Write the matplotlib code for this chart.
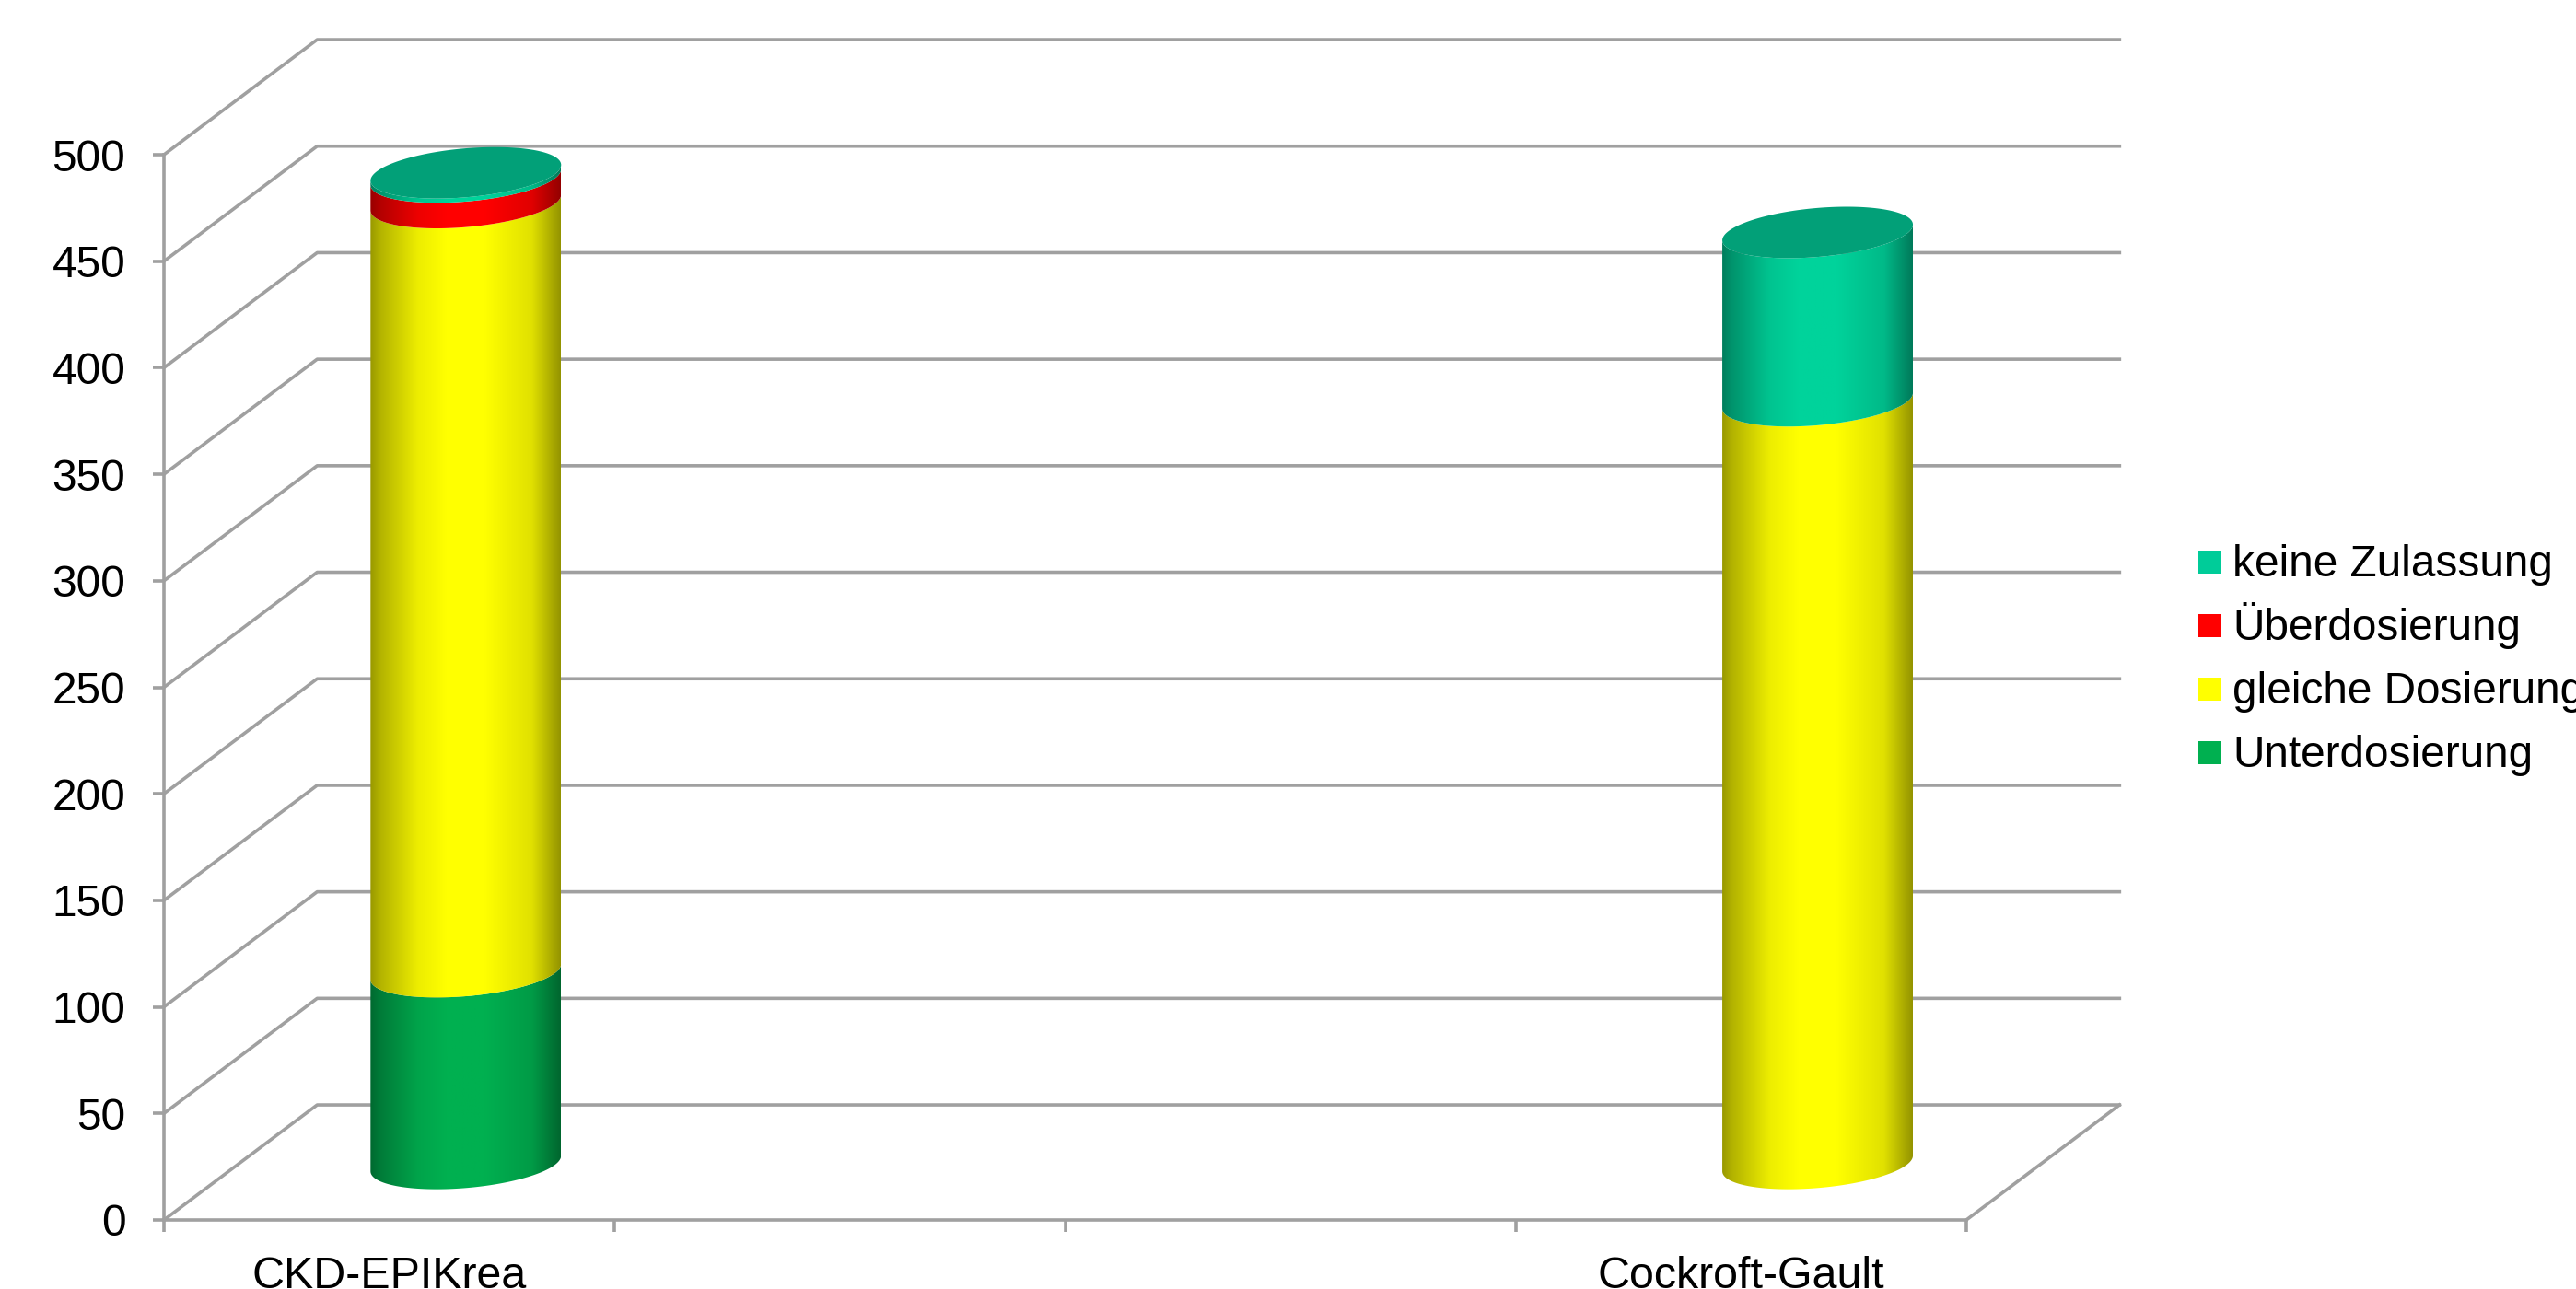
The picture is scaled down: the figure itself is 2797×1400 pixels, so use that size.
import numpy as np
import matplotlib
matplotlib.use("Agg")
import matplotlib.pyplot as plt
from matplotlib.patches import Polygon, Rectangle

plt.rcParams['font.family'] = ['Liberation Sans', 'DejaVu Sans']

# data
categories = ["CKD-EPIKrea", "", "", "Cockroft-Gault"]
series_names = ["Unterdosierung", "gleiche Dosierung", "Überdosierung", "keine Zulassung"]
unterdosierung = [90, 0, 0, 0]
gleiche_dosierung = [361, 0, 0, 358]
ueberdosierung = [12, 0, 0, 0]
keine_zulassung = [2, 0, 0, 79]
y_ticks = list(range(0, 501, 50))

colors = ["#00B050", "#FFFF00", "#FF0000", "#00D39B"]
legend_colors = ["#00B050", "#FFFF00", "#FF0000", "#00CC99"]
top_color = "#02A078"
line_color = "#A0A0A0"
line_w = 2.6

# 3d look, in axis units
depth_x = 0.34
depth_y = 54
radius = 0.2115
tilt = 3.7
squash = 11.5


def arc(cx, val, t0, t1, n=80):
    t = np.linspace(t0, t1, n)
    return cx + radius * np.cos(t), val + tilt * np.cos(t) + squash * np.sin(t)


fig = plt.figure(figsize=(27.97, 14), dpi=100)
ax = fig.add_axes([178 / 2797, 1 - 1325 / 1400, 1957 / 2797, 1157 / 1400])

# back wall and side wall lines
for v in y_ticks:
    ax.plot([0, depth_x, 4 + depth_x], [v, v + depth_y, v + depth_y],
            color=line_color, lw=line_w, clip_on=False, zorder=1)
ax.plot([4, 4 + depth_x], [0, depth_y], color=line_color, lw=line_w, clip_on=False, zorder=1)

# cylinders
stack = np.array([unterdosierung, gleiche_dosierung, ueberdosierung, keine_zulassung])
shade_x = [0, 0.05, 0.25, 0.40, 0.60, 0.85, 1]
shade_y = [0.60, 0.70, 0.93, 1, 1, 0.88, 0.58]
for i in range(len(categories)):
    if stack[:, i].sum() == 0:
        continue
    cx = i + 0.5 + depth_x / 2
    base = depth_y / 2 - 0.5
    for j in range(len(series_names)):
        if stack[j, i] == 0:
            continue
        top = base + stack[j, i]
        x0, y0 = arc(cx, base, np.pi, 2 * np.pi)
        x1, y1 = arc(cx, top, 2 * np.pi, np.pi)
        side = Polygon(np.column_stack([np.r_[x0, x1], np.r_[y0, y1]]), closed=True,
                       facecolor="none", edgecolor="none", transform=ax.transData)
        ax.add_patch(side)
        f = np.linspace(0, 1, 256)
        rgb = np.array(matplotlib.colors.to_rgb(colors[j]))
        img = np.outer(np.interp(f, shade_x, shade_y), rgb)[np.newaxis, :, :]
        im = ax.imshow(img, extent=[cx - radius, cx + radius, base - 20, top + 20],
                       aspect="auto", zorder=3, interpolation="bilinear")
        im.set_clip_path(side)
        im.set_clip_box(fig.bbox)
        base = top
    x2, y2 = arc(cx, base, 0, 2 * np.pi, 160)
    ax.add_patch(Polygon(np.column_stack([x2, y2]), closed=True, facecolor=top_color,
                         edgecolor="none", zorder=4, clip_on=False))

# axes
ax.set_xlim(0, 4)
ax.set_ylim(0, 500)
ax.patch.set_visible(False)
for s in ["top", "right"]:
    ax.spines[s].set_visible(False)
for s in ["left", "bottom"]:
    ax.spines[s].set_color(line_color)
    ax.spines[s].set_linewidth(line_w)
ax.set_yticks(y_ticks)
ax.tick_params(axis="y", direction="out", length=9, width=line_w, color=line_color,
               labelsize=34.4, pad=21, labelcolor="black")
ax.set_xticks(range(5))
ax.set_xticklabels([])
ax.tick_params(axis="x", which="major", direction="out", length=9, width=line_w, color=line_color)
ax.set_xticks(np.arange(len(categories)) + 0.5, minor=True)
ax.set_xticklabels(categories, minor=True)
ax.tick_params(axis="x", which="minor", length=0, labelsize=34.8, pad=28, labelcolor="black")

# legend, placed by hand since rows must be evenly spaced, top entry first
legend_baselines = [626, 695, 764, 833]
for name, c, y in zip(series_names[::-1], legend_colors[::-1], legend_baselines):
    fig.text(2424 / 2797, 1 - y / 1400, name, fontsize=34.4, va="baseline", ha="left")
    fig.add_artist(Rectangle((2387 / 2797, 1 - (y - 3) / 1400), 25 / 2797, 25 / 1400,
                             facecolor=c, edgecolor="none", transform=fig.transFigure))

fig.savefig("out.png", dpi=100)
